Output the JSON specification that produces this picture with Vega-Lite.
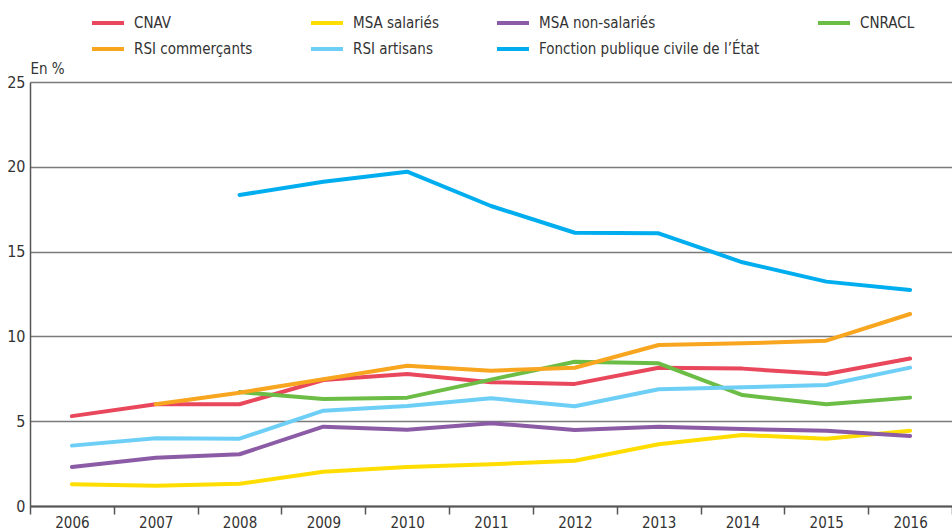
{
  "$schema": "https://vega.github.io/schema/vega-lite/v6.json",
  "width": 922,
  "height": 424,
  "autosize": {"type": "none"},
  "padding": {"left": 30, "top": 82, "right": 0, "bottom": 24},
  "background": "white",
  "config": {
    "font": "DejaVu Sans Condensed, Roboto, sans-serif",
    "view": {"stroke": null}
  },
  "data": {
    "values": [
      {"year": "2006", "regime": "CNAV", "v": 5.3},
      {"year": "2007", "regime": "CNAV", "v": 6.0},
      {"year": "2008", "regime": "CNAV", "v": 6.0},
      {"year": "2009", "regime": "CNAV", "v": 7.43},
      {"year": "2010", "regime": "CNAV", "v": 7.78},
      {"year": "2011", "regime": "CNAV", "v": 7.3},
      {"year": "2012", "regime": "CNAV", "v": 7.2},
      {"year": "2013", "regime": "CNAV", "v": 8.15},
      {"year": "2014", "regime": "CNAV", "v": 8.1},
      {"year": "2015", "regime": "CNAV", "v": 7.78},
      {"year": "2016", "regime": "CNAV", "v": 8.7},

      {"year": "2006", "regime": "MSA salariés", "v": 1.28},
      {"year": "2007", "regime": "MSA salariés", "v": 1.2},
      {"year": "2008", "regime": "MSA salariés", "v": 1.31},
      {"year": "2009", "regime": "MSA salariés", "v": 2.02},
      {"year": "2010", "regime": "MSA salariés", "v": 2.3},
      {"year": "2011", "regime": "MSA salariés", "v": 2.46},
      {"year": "2012", "regime": "MSA salariés", "v": 2.67},
      {"year": "2013", "regime": "MSA salariés", "v": 3.64},
      {"year": "2014", "regime": "MSA salariés", "v": 4.19},
      {"year": "2015", "regime": "MSA salariés", "v": 3.97},
      {"year": "2016", "regime": "MSA salariés", "v": 4.44},

      {"year": "2006", "regime": "MSA non-salariés", "v": 2.3},
      {"year": "2007", "regime": "MSA non-salariés", "v": 2.85},
      {"year": "2008", "regime": "MSA non-salariés", "v": 3.05},
      {"year": "2009", "regime": "MSA non-salariés", "v": 4.68},
      {"year": "2010", "regime": "MSA non-salariés", "v": 4.5},
      {"year": "2011", "regime": "MSA non-salariés", "v": 4.88},
      {"year": "2012", "regime": "MSA non-salariés", "v": 4.48},
      {"year": "2013", "regime": "MSA non-salariés", "v": 4.68},
      {"year": "2014", "regime": "MSA non-salariés", "v": 4.54},
      {"year": "2015", "regime": "MSA non-salariés", "v": 4.44},
      {"year": "2016", "regime": "MSA non-salariés", "v": 4.13},

      {"year": "2008", "regime": "CNRACL", "v": 6.72},
      {"year": "2009", "regime": "CNRACL", "v": 6.31},
      {"year": "2010", "regime": "CNRACL", "v": 6.39},
      {"year": "2011", "regime": "CNRACL", "v": 7.45},
      {"year": "2012", "regime": "CNRACL", "v": 8.51},
      {"year": "2013", "regime": "CNRACL", "v": 8.41},
      {"year": "2014", "regime": "CNRACL", "v": 6.54},
      {"year": "2015", "regime": "CNRACL", "v": 6.0},
      {"year": "2016", "regime": "CNRACL", "v": 6.39},

      {"year": "2007", "regime": "RSI commerçants", "v": 6.0},
      {"year": "2008", "regime": "RSI commerçants", "v": 6.68},
      {"year": "2009", "regime": "RSI commerçants", "v": 7.47},
      {"year": "2010", "regime": "RSI commerçants", "v": 8.27},
      {"year": "2011", "regime": "RSI commerçants", "v": 7.98},
      {"year": "2012", "regime": "RSI commerçants", "v": 8.15},
      {"year": "2013", "regime": "RSI commerçants", "v": 9.49},
      {"year": "2014", "regime": "RSI commerçants", "v": 9.59},
      {"year": "2015", "regime": "RSI commerçants", "v": 9.75},
      {"year": "2016", "regime": "RSI commerçants", "v": 11.32},

      {"year": "2006", "regime": "RSI artisans", "v": 3.56},
      {"year": "2007", "regime": "RSI artisans", "v": 3.99},
      {"year": "2008", "regime": "RSI artisans", "v": 3.97},
      {"year": "2009", "regime": "RSI artisans", "v": 5.62},
      {"year": "2010", "regime": "RSI artisans", "v": 5.9},
      {"year": "2011", "regime": "RSI artisans", "v": 6.35},
      {"year": "2012", "regime": "RSI artisans", "v": 5.88},
      {"year": "2013", "regime": "RSI artisans", "v": 6.88},
      {"year": "2014", "regime": "RSI artisans", "v": 7.0},
      {"year": "2015", "regime": "RSI artisans", "v": 7.13},
      {"year": "2016", "regime": "RSI artisans", "v": 8.16},

      {"year": "2008", "regime": "Fonction publique civile de l’État", "v": 18.34},
      {"year": "2009", "regime": "Fonction publique civile de l’État", "v": 19.12},
      {"year": "2010", "regime": "Fonction publique civile de l’État", "v": 19.71},
      {"year": "2011", "regime": "Fonction publique civile de l’État", "v": 17.69},
      {"year": "2012", "regime": "Fonction publique civile de l’État", "v": 16.11},
      {"year": "2013", "regime": "Fonction publique civile de l’État", "v": 16.08},
      {"year": "2014", "regime": "Fonction publique civile de l’État", "v": 14.37},
      {"year": "2015", "regime": "Fonction publique civile de l’État", "v": 13.23},
      {"year": "2016", "regime": "Fonction publique civile de l’État", "v": 12.74}
    ]
  },
  "mark": {"type": "line", "strokeWidth": 4, "strokeCap": "round", "strokeJoin": "round"},
  "encoding": {
    "x": {
      "field": "year",
      "type": "ordinal",
      "scale": {"type": "band", "paddingInner": 0, "paddingOuter": 0},
      "axis": {
        "title": null,
        "labelAngle": 0,
        "tickBand": "extent",
        "labelFontSize": 15,
        "labelColor": "#333333",
        "labelPadding": 1,
        "tickSize": 8,
        "tickColor": "#555555",
        "tickWidth": 1.5,
        "domainColor": "#555555",
        "domainWidth": 2,
        "grid": false
      }
    },
    "y": {
      "field": "v",
      "type": "quantitative",
      "scale": {"domain": [0, 25], "nice": false},
      "axis": {
        "values": [0, 5, 10, 15, 20, 25],
        "title": "En %",
        "titleAngle": 0,
        "titleX": 0,
        "titleY": -6,
        "titleAlign": "left",
        "titleBaseline": "bottom",
        "titleFontSize": 15,
        "titleFontWeight": "normal",
        "titleColor": "#333333",
        "labelFontSize": 16,
        "labelColor": "#333333",
        "labelPadding": 5,
        "ticks": false,
        "domainColor": "#555555",
        "domainWidth": 1.5,
        "grid": true,
        "gridColor": "#7a7a7a",
        "gridWidth": 1.5
      }
    },
    "color": {
      "field": "regime",
      "type": "nominal",
      "sort": null,
      "scale": {
        "domain": ["CNAV", "MSA salariés", "MSA non-salariés", "CNRACL", "RSI commerçants", "RSI artisans", "Fonction publique civile de l’État"],
        "range": ["#E9475C", "#FFDD00", "#8C5BA6", "#6CBD45", "#F8A51F", "#6DCFF6", "#00AEEF"]
      },
      "legend": {
        "title": null,
        "orient": "none",
        "legendX": 60,
        "legendY": -77,
        "columns": 4,
        "direction": "horizontal",
        "columnPadding": 50,
        "rowPadding": -14,
        "symbolType": "stroke",
        "symbolSize": 1024,
        "symbolStrokeWidth": 4,
        "labelFontSize": 15,
        "labelColor": "#333333",
        "labelOffset": 8,
        "labelLimit": 400
      }
    }
  }
}
